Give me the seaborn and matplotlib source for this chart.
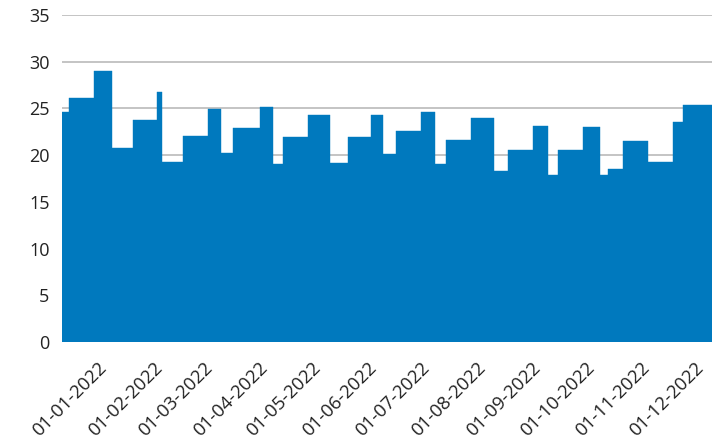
import matplotlib
matplotlib.use("Agg")
import matplotlib.pyplot as plt
import matplotlib.dates as mdates
import seaborn as sns
import pandas as pd

# Step start dates and values
change_dates = [
    "2021-12-12", "2021-12-16", "2021-12-30", "2022-01-09", "2022-01-21",
    "2022-02-03", "2022-02-06", "2022-02-18", "2022-03-04", "2022-03-11",
    "2022-03-18", "2022-04-02", "2022-04-09", "2022-04-15", "2022-04-29",
    "2022-05-11", "2022-05-21", "2022-06-03", "2022-06-10", "2022-06-17",
    "2022-07-01", "2022-07-09", "2022-07-15", "2022-07-29", "2022-08-11",
    "2022-08-19", "2022-09-02", "2022-09-10", "2022-09-16", "2022-09-30",
    "2022-10-09", "2022-10-14", "2022-10-22", "2022-11-05", "2022-11-19",
    "2022-11-25",
]
values = [
    24.65, 26.15, 29.05, 20.8, 23.8,
    26.8, 19.3, 22.0, 24.9, 20.25,
    22.9, 25.1, 19.1, 21.9, 24.3,
    19.2, 21.9, 24.3, 20.15, 22.6,
    24.65, 19.0, 21.65, 24.0, 18.3,
    20.6, 23.15, 17.9, 20.6, 23.05,
    17.9, 18.5, 21.55, 19.3, 23.6,
    25.4,
]
end_date = "2022-12-11"
tick_dates = pd.date_range("2022-01-01", "2022-12-01", freq="MS")
y_ticks = [0, 5, 10, 15, 20, 25, 30, 35]

BLUE = "#0079be"

sns.set_style("white")
plt.rcParams["font.family"] = ["Open Sans", "DejaVu Sans"]

df = pd.DataFrame({
    "date": pd.to_datetime(change_dates + [end_date]),
    "value": values + [values[-1]],
})

fig = plt.figure(figsize=(7.12, 4.43), dpi=100)
ax = fig.add_axes([62 / 712, 1 - 342 / 443, 650 / 712, 327 / 443])

ax.fill_between(df["date"], df["value"], step="post", color=BLUE, linewidth=0, zorder=2)
sns.lineplot(data=df, x="date", y="value", drawstyle="steps-post", color=BLUE,
             linewidth=0.3, ax=ax, zorder=2)

ax.set_xlim(df["date"].min(), df["date"].max())
ax.set_ylim(0, 35)
ax.set_yticks(y_ticks)
ax.set_xticks(tick_dates)
ax.xaxis.set_major_formatter(mdates.DateFormatter("%d-%m-%Y"))
ax.grid(axis="y", color="#c4c4c4", linewidth=1.4, zorder=0)
ax.grid(axis="x", visible=False)
ax.set_axisbelow(True)
for s in ax.spines.values():
    s.set_visible(False)
ax.set_xlabel("")
ax.set_ylabel("")
ax.tick_params(axis="y", length=0, pad=9, labelsize=13, labelcolor="#222222")
ax.tick_params(axis="x", length=0, pad=12, labelsize=13.3, labelcolor="#222222")
for lab in ax.get_xticklabels():
    lab.set_rotation(45)
    lab.set_ha("right")
    lab.set_va("top")
    lab.set_rotation_mode("anchor")

fig.savefig("out.png", dpi=100)
